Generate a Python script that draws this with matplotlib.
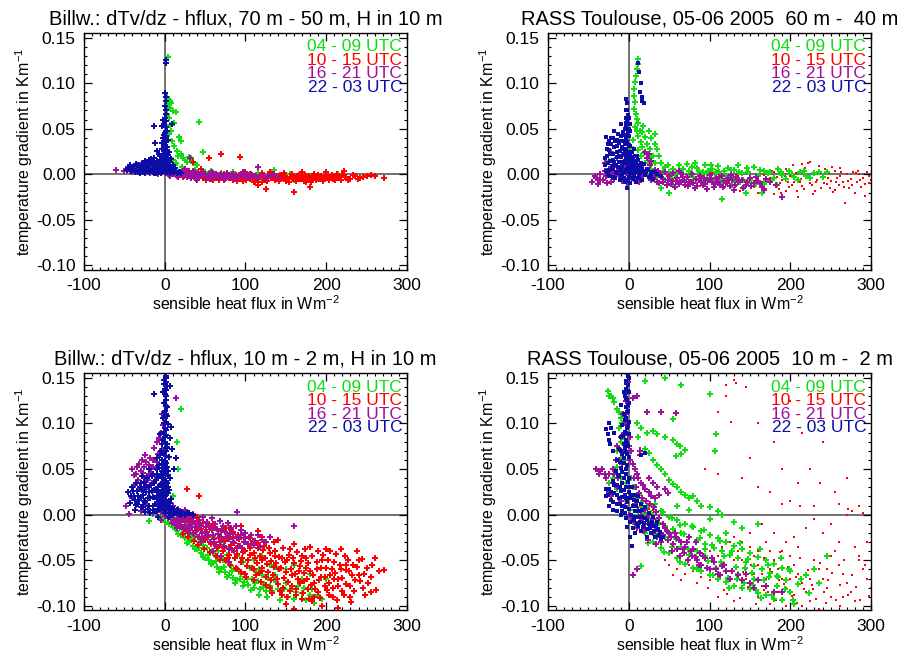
import numpy as np
import matplotlib
matplotlib.use("Agg")
import matplotlib.pyplot as plt
from matplotlib.ticker import MultipleLocator, FormatStrFormatter

plt.rcParams['font.family'] = ['Liberation Sans', 'DejaVu Sans']
plt.rcParams['mathtext.default'] = 'regular'
plt.rcParams['axes.unicode_minus'] = False

# ---- data: (sensible heat flux, temperature gradient) ----
periods = ["04 - 09 UTC", "10 - 15 UTC", "16 - 21 UTC", "22 - 03 UTC"]
period_colors = ["#11dd11", "#ff0000", "#a0109f", "#0c0ca6"]

titles = ["Billw.: dTv/dz - hflux, 70 m - 50 m, H in 10 m",
          "RASS Toulouse, 05-06 2005  60 m -  40 m",
          "Billw.: dTv/dz - hflux, 10 m - 2 m, H in 10 m",
          "RASS Toulouse, 05-06 2005  10 m -  2 m"]

# Billwerder 70 m - 50 m
tl_green = [(4,0.129),(3,0.085),(5,0.082),(7,0.080),(4,0.077),(8,0.078),(6,0.073),(10,0.069),(14,0.068),(3,0.066),
            (5,0.062),(11,0.056),(7,0.054),(42,0.057),(8,0.048),(18,0.041),(20,0.037),(5,0.044),(12,0.031),(15,0.026),
            (20,0.022),(17,0.020),(23,0.018),(30,0.019),(33,0.018),(25,0.016),(28,0.014),(35,0.012),(40,0.010),(47,0.024),
            (10,0.016),(14,0.012),(22,0.008),(38,0.005),(50,0.002),(55,-0.002),(60,0.000),(65,-0.003),(70,0.001),(75,-0.004),
            (80,-0.002),(85,0.002),(90,-0.006),(95,-0.001),(100,0.000),(105,-0.005),(110,-0.007),(115,0.001),(120,-0.003),
            (125,-0.006),(130,-0.002),(135,0.005),(140,-0.005),(150,-0.003),(160,-0.006),(170,-0.004),(180,-0.002),
            (190,-0.005),(200,-0.002),(215,0.000),(30,-0.001),(40,-0.004),(20,0.003),(9,0.037),(13,0.010),
            (57,0.004),(63,-0.004),(88,-0.003),(98,0.002),(117,-0.004),(133,-0.001),(145,-0.002),(155,0.000),
            (165,-0.003),(185,-0.004),(205,-0.004),(35,0.002),(26,0.004)]
tl_red = [(20,-0.001),(23,-0.003),(26,0.000),(29,-0.002),(32,-0.004),(35,-0.001),(38,-0.003),(41,0.001),(44,-0.002),
          (47,-0.004),(50,-0.001),(53,-0.003),(56,-0.005),(59,-0.002),(62,0.000),(65,-0.004),(68,-0.001),(71,-0.003),
          (74,-0.006),(77,-0.002),(80,-0.004),(83,0.000),(86,-0.003),(89,-0.005),(92,-0.001),(95,-0.004),(98,-0.002),
          (101,-0.006),(104,-0.003),(107,0.000),(110,-0.004),(113,-0.002),(116,-0.005),(119,-0.001),(122,-0.003),
          (125,-0.006),(128,-0.002),(131,-0.004),(134,0.000),(137,-0.003),(140,-0.005),(143,-0.001),(146,-0.004),
          (149,-0.002),(152,-0.006),(155,-0.003),(158,0.000),(161,-0.004),(164,-0.002),(167,-0.005),(170,-0.001),
          (173,-0.003),(176,-0.006),(179,-0.002),(182,-0.004),(185,0.000),(188,-0.003),(191,-0.005),(194,-0.002),
          (197,-0.004),(200,-0.001),(204,-0.003),(208,-0.005),(212,-0.002),(216,-0.004),(220,-0.001),(225,-0.003),
          (230,-0.005),(236,-0.002),(242,-0.004),(60,-0.006),(90,-0.007),(120,-0.008),(150,-0.007),(100,0.002),
          (130,0.002),(170,0.003),(35,0.013),(55,0.018),(70,0.022),(93,0.019),(115,-0.012),(110,-0.009),(125,-0.016),
          (160,-0.019),(180,-0.014),(175,-0.008),(200,0.003),(222,0.004),(250,-0.002),(260,-0.002),(272,-0.004),
          (255,-0.001),(30,0.004),(45,0.006)]
tl_red += [(24,-0.002),(33,0.001),(39,-0.005),(46,-0.001),(51,-0.006),(57,0.001),(63,-0.002),(67,-0.006),(73,0.000),
           (79,-0.003),(84,-0.006),(88,-0.001),(94,-0.003),(97,-0.007),(103,-0.001),(106,-0.005),(109,-0.002),
           (112,-0.007),(117,-0.003),(121,0.001),(124,-0.004),(127,-0.007),(132,-0.001),(136,-0.006),(139,-0.002),
           (142,-0.007),(145,-0.003),(148,0.001),(151,-0.004),(154,-0.008),(157,-0.002),(159,-0.005),(163,-0.007),
           (166,-0.001),(169,-0.004),(172,-0.007),(174,-0.001),(178,-0.005),(181,-0.008),(184,-0.002),(187,-0.006),
           (190,-0.001),(193,-0.003),(196,-0.007),(199,-0.004),(203,-0.006),(207,-0.001),(211,-0.006),(214,-0.003),
           (218,-0.006),(223,-0.003),(227,-0.006),(233,-0.001),(239,-0.005),(246,-0.003),(213,0.000)]
tl_purple = [(-60,0.005),(-50,0.004),(-45,0.008),(-40,0.003),(-35,0.006),(-30,0.002),(-28,0.012),(-25,0.008),
             (-22,0.004),(-20,0.013),(-18,0.001),(-15,0.007),(-12,0.003),(-10,0.010),(-8,0.000),(-5,0.004),(-3,0.008),
             (0,0.001),(3,0.003),(5,-0.001),(8,0.002),(10,0.000),(12,0.004),(15,-0.002),(18,0.001),(20,0.003),
             (22,-0.001),(25,0.001),(28,-0.003),(30,0.002),(32,0.000),(35,-0.002),(38,0.001),(40,-0.004),(42,0.000),
             (45,-0.002),(48,0.002),(50,-0.001),(52,-0.004),(55,0.000),(58,-0.002),(60,0.001),(62,-0.003),(65,-0.001),
             (68,-0.004),(70,0.000),(72,-0.002),(75,-0.005),(78,-0.001),(80,-0.003),(85,0.000),(88,-0.002),(90,-0.004),
             (95,-0.001),(100,-0.003),(105,0.000),(110,-0.002),(115,-0.004),(120,-0.001),(130,-0.002),(140,-0.003),
             (115,0.008),(31,0.018),(58,0.003),(45,0.001),(35,0.004),(25,0.006),(40,-0.006)]
tl_purple += [(-33,0.010),(-26,0.004),(-17,0.009),(-7,0.006),(2,0.006),(7,-0.002),(13,0.001),(17,-0.003),(23,0.002),
              (27,-0.001),(33,-0.004),(37,0.002),(43,-0.003),(47,0.000),(53,-0.002),(57,-0.005),(63,0.000),(67,-0.002),
              (73,-0.004),(77,0.001),(83,-0.003),(87,-0.005),(93,-0.002),(98,0.000),(103,-0.004),(108,-0.001),
              (113,-0.003),(125,-0.004),(135,0.000),(97,0.003)]
tl_blue = [(1,0.125),(2,0.122),(0,0.089),(1,0.085),(2,0.080),(0,0.075),(2,0.070),(1,0.066),(0,0.062),(2,0.058),
           (-1,0.055),(1,0.052),(3,0.048),(-3,0.053),(0,0.045),(2,0.042),(-2,0.040),(4,0.038),(1,0.035),(-1,0.032),
           (3,0.030),(-4,0.028),(0,0.027),(2,0.025),(5,0.024),(-2,0.022),(1,0.020),(-6,0.020),(3,0.018),(8,0.017),
           (-3,0.016),(0,0.015),(6,0.014),(-8,0.014),(2,0.012),(-5,0.012),(10,0.010),(-1,0.010),(4,0.009),
           (-45,0.007),(-40,0.006),(-38,0.009),(-35,0.004),(-32,0.008),(-30,0.005),(-28,0.011),(-27,0.002),(-25,0.007),
           (-23,0.004),(-22,0.012),(-20,0.009),(-19,0.002),(-18,0.006),(-16,0.014),(-15,0.003),(-14,0.010),(-12,0.007),
           (-11,0.001),(-10,0.013),(-9,0.005),(-8,0.009),(-7,0.003),(-6,0.016),(-5,0.006),(-4,0.011),(-3,0.002),
           (-2,0.008),(-1,0.004),(0,0.006),(1,0.002),(2,0.007),(3,0.003),(5,0.005),(6,0.001),(8,0.004),(10,0.002),
           (12,0.005),(15,0.001),(18,0.003),(-13,0.018),(-7,0.022),(-17,0.017),(-24,0.015),(-33,0.002),(-36,0.011),
           (-42,0.004),(20,0.001),(-9,0.026),(-4,0.034),(4,0.021),(-12,0.034),(-13,0.053),(9,0.055),(-2,0.060)]
tl_blue += [(-37,0.003),(-33,0.010),(-31,0.001),(-29,0.007),(-26,0.010),(-24,0.001),(-21,0.008),(-17,0.011),
            (-16,0.004),(-13,0.001),(-13,0.012),(-11,0.009),(-9,0.015),(-9,0.002),(-7,0.007),(-6,0.011),(-5,0.001),
            (-4,0.018),(-3,0.013),(-2,0.005),(-1,0.017),(0,0.009),(0,0.021),(1,0.013),(1,0.030),(2,0.004),(2,0.038),
            (3,0.010),(4,0.014),(-1,0.043),(1,0.047),(0,0.036),(-2,0.028),(7,0.009),(9,0.006),(11,0.003),(13,0.007),
            (-43,0.010),(-47,0.005),(-20,0.016)]

# RASS Toulouse 60 m - 40 m
tr_green = [(12,0.126),(11,0.121),(10,0.115),(9,0.108),(8,0.101),(7,0.094),(7,0.086),(8,0.079),(7,0.072),(9,0.066),
            (10,0.061),(11,0.056),(8,0.052),(10,0.047),(14,0.048),(16,0.046),(12,0.042),(20,0.041),(28,0.040),
            (22,0.033),(17,0.030),(15,0.035),(35,0.028),(30,0.020),(25,0.018),(19,0.023),(40,0.012),(45,0.008),
            (32,0.012),(28,0.006),(5,0.038),(3,0.030),(-25,0.015),(-15,0.008),(50,0.002),(55,0.006),(60,-0.004),
            (62,0.010),(65,0.002),(70,-0.008),(72,0.011),(75,0.004),(80,-0.003),(82,0.012),(85,0.007),(90,-0.006),
            (92,0.003),(95,0.010),(100,-0.001),(103,0.006),(105,-0.010),(108,0.002),(110,0.009),(113,-0.005),
            (115,-0.027),(118,0.004),(120,-0.008),(123,0.007),(125,-0.002),(128,-0.012),(130,0.005),(133,-0.004),
            (135,0.010),(138,-0.009),(140,0.001),(143,-0.014),(145,-0.020),(148,0.003),(150,-0.006),(155,0.008),
            (158,-0.011),(160,-0.002),(165,-0.020),(168,0.004),(170,-0.007),(175,0.002),(180,-0.004),(185,0.006),
            (190,-0.001),(198,0.004),(205,-0.003),(212,0.002),(220,-0.002),(230,0.001),(245,0.003),(240,-0.003),
            (50,-0.020),(40,-0.015),(55,-0.012),(58,0.003),(45,-0.006),(35,-0.003),(88,0.001),(77,0.001),(98,0.004)]
tr_green += [(26,0.028),(33,0.033),(38,0.020),(24,0.012),(43,0.004),(48,0.010),(53,-0.004),(57,0.000),(63,-0.008),
             (67,0.006),(73,-0.002),(78,0.008),(83,-0.006),(87,0.004),(93,-0.009),(97,0.000),(102,0.010),(107,-0.004),
             (112,0.003),(117,-0.010),(122,-0.002),(127,0.005),(132,-0.008),(137,0.002),(142,-0.006),(147,0.007),
             (152,-0.010),(157,-0.003),(162,0.005),(167,-0.011),(172,0.001),(178,-0.006),(183,-0.012),(188,0.003),
             (195,-0.005),(202,0.000),(210,-0.006),(217,0.004),(225,-0.004),(235,0.002),(15,0.020),(20,0.012),
             (12,0.027),(18,0.053),(25,0.048),(32,0.044)]
tr_red = [(40,0.002),(45,-0.004),(50,0.000),(55,-0.006),(60,0.003),(65,-0.002),(70,-0.008),(75,0.001),(80,-0.004),
          (85,-0.010),(90,0.002),(95,-0.006),(100,-0.001),(105,-0.012),(110,0.004),(115,-0.007),(118,-0.015),
          (120,-0.003),(125,0.006),(130,-0.009),(135,-0.002),(138,-0.018),(140,0.003),(145,-0.011),(150,-0.005),
          (153,0.008),(155,-0.014),(160,-0.001),(165,-0.008),(168,0.005),(170,-0.016),(175,-0.004),(180,0.002),
          (185,-0.012),(188,-0.020),(190,-0.006),(195,0.006),(198,-0.014),(200,-0.002),(203,0.010),(205,-0.009),
          (208,-0.018),(210,0.003),(213,-0.005),(215,-0.013),(218,0.007),(220,-0.001),(222,0.012),(225,-0.010),
          (228,-0.022),(230,0.004),(233,-0.006),(235,0.009),(238,-0.015),(240,-0.002),(243,0.006),(245,-0.011),
          (248,0.001),(250,-0.007),(253,-0.019),(255,0.004),(258,-0.004),(260,-0.012),(263,0.002),(265,-0.008),
          (268,-0.031),(270,0.000),(273,-0.015),(275,-0.005),(278,0.003),(280,-0.020),(283,-0.009),(285,0.000),
          (288,-0.014),(290,-0.004),(293,-0.024),(295,0.002),(298,-0.010),(300,-0.006),(210,-0.025),(180,-0.022),
          (160,-0.020),(255,-0.017),(225,0.013),(215,0.011),(195,-0.018),(245,0.003)]
tr_red += [(47,-0.001),(58,-0.009),(63,0.001),(68,-0.005),(73,-0.011),(78,0.003),(83,-0.007),(88,-0.013),(93,-0.003),
           (98,-0.009),(103,0.001),(108,-0.006),(113,0.002),(121,-0.012),(127,-0.005),(133,-0.013),(137,0.001),
           (143,-0.006),(147,0.005),(152,-0.010),(157,-0.003),(163,-0.012),(167,-0.001),(173,-0.008),(177,0.004),
           (183,-0.003),(187,-0.010),(193,-0.002),(197,-0.008),(202,-0.012),(207,0.001),(212,-0.008),(217,-0.016),
           (223,-0.004),(227,-0.012),(232,-0.008),(237,0.002),(242,-0.010),(247,-0.004),(252,0.008),(257,-0.009),
           (262,-0.002),(267,-0.014),(272,-0.007),(277,-0.012),(282,0.001),(287,-0.006),(292,-0.011),(297,-0.002),
           (249,-0.015),(231,-0.018),(186,-0.016),(262,0.007),(284,0.004)]
tr_purple = [(-45,-0.008),(-40,-0.004),(-38,-0.011),(-35,0.000),(-32,-0.006),(-30,0.004),(-28,-0.002),(-25,0.006),
             (-22,-0.009),(-20,0.002),(-18,-0.005),(-15,0.008),(-12,-0.001),(-10,0.004),(-8,-0.007),(-5,0.010),
             (-3,0.001),(0,-0.004),(3,0.006),(5,-0.002),(8,0.003),(10,-0.006),(12,0.001),(15,-0.003),(18,0.010),
             (20,0.025),(22,0.018),(25,0.022),(28,0.015),(30,-0.005),(32,0.005),(35,-0.008),(38,0.000),(40,-0.003),
             (42,-0.009),(45,0.002),(48,-0.006),(50,-0.002),(52,-0.011),(55,0.001),(58,-0.007),(60,-0.004),(63,-0.009),
             (65,0.001),(68,-0.006),(70,-0.012),(72,-0.003),(75,-0.008),(78,0.000),(80,-0.010),(83,-0.005),(85,-0.013),
             (88,-0.002),(90,-0.008),(93,-0.004),(95,-0.011),(98,-0.006),(100,-0.001),(103,-0.009),(105,-0.014),
             (108,-0.004),(110,-0.008),(113,-0.012),(115,-0.002),(118,-0.007),(120,-0.010),(123,-0.004),(125,-0.013),
             (128,-0.006),(130,-0.017),(133,-0.003),(135,-0.009),(140,-0.006),(145,-0.012),(150,-0.004),(155,-0.010),
             (160,-0.007),(165,-0.014),(170,-0.005),(190,-0.025),(-22,0.025),(-15,0.018),(-8,0.020),(2,0.015),
             (-30,0.012),(-2,-0.010),(10,0.010),(26,0.010),(36,0.004),(62,0.004)]
tr_purple += [(-42,-0.002),(-36,-0.006),(-27,-0.010),(-24,0.000),(-17,-0.002),(-13,0.004),(-6,0.003),(-1,0.006),
              (4,0.001),(7,-0.005),(13,-0.008),(17,-0.001),(23,0.005),(27,-0.006),(33,-0.002),(37,-0.010),(43,-0.005),
              (47,-0.012),(53,-0.007),(57,-0.014),(62,-0.011),(67,-0.003),(73,-0.013),(77,-0.009),(82,-0.015),
              (87,-0.006),(92,-0.012),(97,-0.016),(102,-0.005),(107,-0.011),(112,-0.003),(117,-0.014),(122,-0.008),
              (127,-0.001),(132,-0.012),(137,-0.006),(142,-0.015),(147,-0.008),(152,-0.013),(158,-0.003),(163,-0.010),
              (168,-0.017),(175,-0.009),(182,-0.012)]
tr_blue = [(-3,0.083),(-2,0.078),(-4,0.070),(-1,0.065),(0,0.062),(-2,0.057),(1,0.055),(-3,0.052),(0,0.050),(-1,0.046),
           (2,0.048),(12,0.122),(13,0.112),(15,0.100),(14,0.090),(17,0.080),(19,0.078),(16,0.085),
           (-28,0.041),(-25,0.036),(-22,0.033),(-27,0.028),(-20,0.040),(-18,0.030),(-15,0.038),(-12,0.034),(-10,0.042),
           (-8,0.030),(-6,0.036),(-4,0.040),(-14,0.025),(-23,0.022),(-30,0.018),(-26,0.012),(-20,0.016),(-16,0.010),
           (-12,0.020),(-10,0.014),(-8,0.008),(-6,0.022),(-5,0.015),(-3,0.028),(-2,0.020),(-1,0.010),(0,0.032),
           (0,0.018),(1,0.005),(2,0.024),(3,0.012),(4,0.002),(5,0.017),(6,0.008),(7,-0.002),(8,0.013),(9,0.004),
           (10,0.020),(11,-0.004),(12,0.008),(14,0.001),(15,0.012),(16,-0.006),(18,0.004),(20,-0.001),(22,0.006),
           (25,-0.003),(28,0.002),(30,-0.005),(35,0.000),(40,-0.002),(-28,0.004),(-24,-0.002),(-20,0.006),
           (-17,-0.004),(-14,0.003),(-11,-0.006),(-8,0.000),(-5,-0.008),(-3,0.005),(0,-0.003),(2,-0.010),(5,-0.005),
           (-2,-0.015),(-18,0.048),(-9,0.055),(-5,0.050)]
tr_blue += [(-29,0.010),(-27,0.020),(-26,0.033),(-25,0.005),(-24,0.027),(-23,0.015),(-22,0.040),(-21,0.009),
            (-19,0.022),(-18,0.013),(-17,0.036),(-16,0.003),(-15,0.019),(-14,0.031),(-13,0.008),(-13,0.044),
            (-12,0.014),(-11,0.026),(-10,0.005),(-9,0.019),(-9,0.037),(-8,0.012),(-7,0.028),(-7,0.046),(-6,0.003),
            (-5,0.024),(-5,0.033),(-4,0.012),(-4,0.056),(-3,0.018),(-2,0.006),(-2,0.035),(-1,0.025),(-1,0.003),
            (0,0.013),(0,0.042),(1,0.020),(1,0.001),(2,0.010),(2,0.031),(3,0.006),(3,0.019),(4,0.025),(4,0.009),
            (5,0.001),(6,0.015),(6,0.028),(7,0.006),(8,0.020),(9,0.011),(10,0.002),(11,0.008),(12,0.016),(13,0.004),
            (14,0.010),(17,0.006),(19,0.011),(21,0.002),(24,0.005),(27,-0.001),(32,0.003),(-1,-0.007),(-6,-0.004),
            (-10,-0.002),(-15,0.001),(-20,-0.003),(-26,0.000),(4,-0.004),(9,-0.008),(13,-0.003),(-3,0.062),
            (-2,0.070),(-5,0.043)]

# Billwerder 10 m - 2 m
bl_green = [(-20,-0.007),(-15,0.001),(-5,-0.004),(0,-0.008),(5,-0.010),(8,-0.005),(10,-0.014),(12,-0.008),(15,-0.018),
            (18,-0.012),(20,-0.022),(22,-0.015),(25,-0.026),(28,-0.018),(30,-0.030),(32,-0.022),(35,-0.034),(38,-0.025),
            (40,-0.038),(42,-0.030),(45,-0.042),(48,-0.033),(50,-0.047),(52,-0.036),(55,-0.050),(58,-0.040),(60,-0.053),
            (62,-0.044),(65,-0.057),(68,-0.047),(70,-0.060),(72,-0.050),(75,-0.063),(78,-0.053),(80,-0.066),(82,-0.056),
            (85,-0.069),(88,-0.059),(90,-0.072),(92,-0.062),(95,-0.065),(98,-0.074),(100,-0.068),(103,-0.077),
            (105,-0.058),(108,-0.070),(110,-0.080),(113,-0.063),(115,-0.073),(118,-0.082),(120,-0.066),(123,-0.076),
            (125,-0.084),(128,-0.069),(130,-0.078),(135,-0.072),(140,-0.081),(145,-0.088),(150,-0.075),(155,-0.083),
            (160,-0.092),(165,-0.078),(170,-0.086),(175,-0.094),(180,-0.088),(185,-0.097),(195,-0.092),(140,-0.060),
            (120,-0.045),(100,-0.040),(80,-0.035),(60,-0.025),(40,-0.015),(160,-0.055),(180,-0.065),(200,-0.070),
            (20,0.116),(16,0.050),(15,0.080),(10,0.020),(2,0.012),(30,-0.010),(50,-0.020),(70,-0.030),(90,-0.045),
            (110,-0.050),(130,-0.055),(150,-0.060),(170,-0.070)]
bl_green += [(13,-0.015),(17,-0.021),(24,-0.019),(27,-0.031),(33,-0.027),(37,-0.038),(43,-0.036),(47,-0.046),
             (53,-0.044),(57,-0.054),(63,-0.051),(67,-0.063),(73,-0.057),(77,-0.068),(83,-0.062),(87,-0.075),
             (93,-0.070),(97,-0.078),(102,-0.071),(107,-0.083),(112,-0.075),(117,-0.088),(122,-0.079),(127,-0.090),
             (133,-0.084),(138,-0.074),(143,-0.093),(148,-0.082),(153,-0.090),(163,-0.085),(173,-0.080),(183,-0.082),
             (190,-0.088),(57,-0.030),(77,-0.044),(97,-0.052),(117,-0.060),(137,-0.066),(37,-0.022),(66,-0.040)]
bl_red = [(15,-0.005),(18,-0.010),(20,-0.003),(22,-0.014),(25,-0.008),(27,-0.018),(30,-0.011),(32,-0.004),(35,-0.020),
          (37,-0.013),(40,-0.007),(42,-0.024),(45,-0.016),(47,-0.009),(50,-0.028),(52,-0.019),(55,-0.012),(57,-0.032),
          (60,-0.022),(62,-0.015),(65,-0.036),(67,-0.026),(70,-0.018),(72,-0.040),(75,-0.029),(77,-0.021),(80,-0.044),
          (82,-0.033),(85,-0.024),(87,-0.048),(90,-0.037),(92,-0.027),(95,-0.052),(97,-0.041),(100,-0.030),
          (102,-0.056),(105,-0.044),(107,-0.033),(110,-0.060),(112,-0.047),(115,-0.036),(117,-0.064),(120,-0.050),
          (122,-0.039),(125,-0.068),(127,-0.054),(130,-0.042),(132,-0.072),(135,-0.057),(137,-0.045),(140,-0.076),
          (142,-0.060),(145,-0.048),(147,-0.080),(150,-0.063),(152,-0.050),(155,-0.084),(157,-0.066),(160,-0.053),
          (162,-0.088),(165,-0.070),(167,-0.056),(170,-0.092),(172,-0.073),(175,-0.058),(177,-0.082),(180,-0.062),
          (182,-0.095),(185,-0.075),(188,-0.060),(190,-0.085),(193,-0.068),(195,-0.100),(198,-0.078),(200,-0.058),
          (203,-0.088),(205,-0.066),(208,-0.080),(210,-0.052),(213,-0.094),(215,-0.070),(218,-0.060),(220,-0.084),
          (223,-0.045),(225,-0.076),(228,-0.062),(230,-0.090),(233,-0.055),(236,-0.072),(240,-0.066),(245,-0.080),
          (250,-0.058),(255,-0.068),(260,-0.048),(265,-0.062),(272,-0.061),(248,-0.088),(215,-0.102),(150,-0.098),
          (160,-0.103),(205,-0.040),(180,-0.035),(190,-0.040),(170,-0.045),(160,-0.032),(140,-0.028),(120,-0.025),
          (100,-0.020),(80,-0.015),(60,-0.010),(28,0.028),(42,0.020),(40,-0.002),(90,-0.060),(110,-0.072),
          (130,-0.080),(145,-0.088),(100,-0.065),(120,-0.058),(75,-0.050),(65,-0.045),(95,-0.012),(115,-0.018),
          (135,-0.030),(155,-0.038),(175,-0.048),(195,-0.050),(210,-0.070),(225,-0.055),(240,-0.050),(200,-0.038),
          (185,-0.090)]
bl_red += [(23,-0.021),(26,-0.006),(29,-0.025),(31,-0.016),(34,-0.009),(36,-0.029),(39,-0.018),(41,-0.033),(44,-0.011),
           (46,-0.026),(49,-0.038),(51,-0.014),(54,-0.024),(56,-0.041),(58,-0.017),(61,-0.030),(63,-0.045),(66,-0.021),
           (68,-0.033),(69,-0.050),(71,-0.027),(74,-0.037),(76,-0.015),(78,-0.047),(79,-0.025),(81,-0.055),(83,-0.039),
           (84,-0.019),(86,-0.031),(88,-0.058),(89,-0.043),(91,-0.022),(93,-0.034),(94,-0.063),(96,-0.047),(98,-0.026),
           (99,-0.040),(101,-0.068),(103,-0.050),(104,-0.024),(106,-0.037),(108,-0.058),(109,-0.029),(111,-0.042),
           (113,-0.066),(114,-0.053),(116,-0.031),(118,-0.045),(119,-0.074),(121,-0.062),(123,-0.034),(124,-0.048),
           (126,-0.077),(128,-0.063),(129,-0.037),(131,-0.051),(133,-0.086),(134,-0.066),(136,-0.040),(138,-0.053),
           (139,-0.071),(141,-0.046),(143,-0.084),(144,-0.058),(146,-0.036),(148,-0.069),(149,-0.052),(151,-0.090),
           (153,-0.074),(154,-0.044),(156,-0.059),(158,-0.078),(159,-0.048),(161,-0.065),(163,-0.081),(164,-0.041),
           (166,-0.062),(168,-0.075),(169,-0.051),(171,-0.086),(173,-0.064),(174,-0.038),(176,-0.070),(178,-0.053),
           (179,-0.092),(181,-0.077),(183,-0.045),(184,-0.066),(186,-0.082),(189,-0.052),(191,-0.072),(192,-0.091),
           (194,-0.058),(196,-0.044),(199,-0.068),(201,-0.083),(202,-0.050),(204,-0.075),(207,-0.059),(209,-0.090),
           (211,-0.064),(212,-0.043),(214,-0.078),(217,-0.055),(219,-0.069),(222,-0.088),(224,-0.061),(227,-0.050),
           (229,-0.078),(232,-0.066),(235,-0.084),(238,-0.057),(242,-0.073),(244,-0.049),(247,-0.065),(252,-0.075),
           (257,-0.055),(262,-0.083),(231,-0.096),(238,-0.040),(255,-0.085),(218,-0.038)]
bl_purple = [(-40,0.050),(-38,0.043),(-35,0.045),(-33,0.038),(-32,0.055),(-30,0.048),(-28,0.060),(-26,0.052),
             (-25,0.040),(-23,0.058),(-22,0.030),(-20,0.045),(-18,0.062),(-16,0.035),(-15,0.052),(-13,0.073),
             (-12,0.042),(-10,0.080),(-9,0.058),(-8,0.025),(-6,0.068),(-5,0.090),(-4,0.035),(-2,0.098),(-3,0.072),
             (14,0.128),(-41,0.018),(-30,0.004),(-25,0.012),(-15,0.002),(-10,0.012),(-5,0.003),(0,-0.001),(3,0.004),
             (6,-0.003),(8,0.002),(10,-0.006),(12,0.000),(15,-0.004),(18,-0.008),(20,0.002),(22,-0.005),(25,-0.011),
             (28,-0.002),(30,-0.008),(33,-0.014),(35,-0.004),(38,-0.010),(40,-0.017),(42,-0.006),(45,-0.012),
             (48,-0.002),(50,-0.019),(52,-0.008),(55,-0.014),(58,-0.004),(60,-0.022),(62,-0.010),(65,-0.016),
             (68,-0.007),(70,-0.024),(72,-0.012),(75,-0.019),(78,-0.009),(80,-0.027),(82,-0.015),(85,-0.021),
             (88,-0.012),(90,0.003),(92,-0.025),(95,-0.017),(98,-0.030),(100,-0.020),(105,-0.026),(110,-0.033),
             (115,-0.022),(120,-0.028),(130,-0.024),(160,-0.012),(70,-0.045),(80,-0.052),(60,-0.040),(45,-0.030),
             (5,0.015),(10,0.010),(16,0.006),(25,0.005),(35,0.001),(-48,0.009),(-44,0.001),(-5,-0.006),(30,-0.020),
             (15,-0.015)]
bl_purple += [(-37,0.033),(-34,0.052),(-29,0.028),(-27,0.046),(-24,0.065),(-21,0.038),(-19,0.054),(-17,0.047),
              (-14,0.060),(-11,0.051),(-8,0.066),(-7,0.084),(-4,0.078),(-3,0.110),(-1,0.090),(2,0.003),(4,-0.004),
              (7,0.003),(9,-0.009),(11,0.004),(13,-0.007),(14,-0.011),(17,0.001),(19,-0.013),(21,-0.006),(24,-0.016),
              (26,-0.003),(27,-0.013),(31,-0.017),(34,-0.007),(36,-0.021),(39,-0.013),(41,-0.024),(44,-0.009),
              (46,-0.020),(49,-0.026),(51,-0.013),(54,-0.022),(56,-0.030),(59,-0.016),(61,-0.027),(64,-0.034),
              (66,-0.021),(69,-0.030),(71,-0.017),(74,-0.034),(76,-0.025),(79,-0.038),(81,-0.020),(84,-0.030),
              (86,-0.040),(89,-0.026),(91,-0.034),(94,-0.022),(96,-0.036),(99,-0.026),(103,-0.032),(107,-0.022),
              (112,-0.029),(118,-0.035),(125,-0.030),(6,0.008),(-2,0.005)]
bl_blue = [(0,0.155),(2,0.152),(-1,0.148),(1,0.145),(3,0.141),(0,0.138),(-2,0.134),(2,0.130),(1,0.126),(-1,0.122),
           (3,0.118),(0,0.114),(2,0.110),(-2,0.106),(1,0.102),(4,0.099),(0,0.095),(-1,0.091),(2,0.087),(6,0.084),
           (0,0.080),(-3,0.077),(3,0.074),(1,0.070),(-1,0.066),(5,0.063),(-4,0.060),(2,0.057),(0,0.054),(-2,0.051),
           (4,0.048),(1,0.045),(-5,0.043),(7,0.040),(-1,0.038),(3,0.035),(-3,0.032),(0,0.029),(5,0.027),(-6,0.025),
           (2,0.022),(-2,0.019),(8,0.017),(-4,0.015),(1,0.012),(-8,0.010),(4,0.008),(-1,0.005),(10,0.004),(0,0.002),
           (-13,0.132),(7,0.141),(-6,0.088),(8,0.096),(-5,0.070),(9,0.072),
           (-45,0.025),(-43,0.013),(-40,0.030),(-38,0.020),(-36,0.011),(-34,0.026),(-32,0.016),(-30,0.035),(-29,0.008),
           (-27,0.022),(-25,0.030),(-24,0.014),(-22,0.040),(-21,0.006),(-20,0.025),(-18,0.018),(-17,0.033),(-15,0.010),
           (-14,0.045),(-13,0.027),(-12,0.004),(-11,0.038),(-10,0.020),(-9,0.050),(-8,0.030),(-7,0.012),(-6,0.042),
           (-5,0.022),(-4,0.055),(-3,0.008),(-2,0.040),(-1,0.028),(2,0.016),(4,0.030),(6,0.008),(8,0.003),(12,0.002),
           (15,0.005),(18,0.001),(22,0.003),(25,0.000),(30,0.002),(-28,0.042),(-35,0.035),(-19,0.050),(-10,0.062),
           (-6,0.065),(14,0.062),(12,0.050),(-18,0.002),(-8,-0.002),(5,-0.002),(-37,0.005),(-24,0.003)]
bl_blue += [(1,0.150),(-1,0.143),(2,0.137),(0,0.132),(1,0.119),(-1,0.111),(3,0.108),(-1,0.100),(2,0.093),(0,0.085),
            (-2,0.082),(3,0.078),(1,0.073),(-2,0.068),(2,0.064),(0,0.059),(-3,0.056),(3,0.052),(1,0.049),(-1,0.046),
            (4,0.043),(-3,0.040),(2,0.037),(0,0.034),(-4,0.031),(2,0.030),(-2,0.026),(4,0.024),(0,0.020),(-5,0.018),
            (3,0.014),(-2,0.011),(6,0.010),(-6,0.006),(2,0.005),
            (-42,0.020),(-39,0.026),(-37,0.016),(-33,0.021),(-31,0.030),(-29,0.018),(-28,0.027),(-26,0.015),
            (-26,0.036),(-23,0.025),(-23,0.033),(-21,0.018),(-19,0.030),(-19,0.010),(-16,0.026),(-16,0.042),
            (-14,0.019),(-13,0.035),(-12,0.012),(-11,0.027),(-10,0.045),(-9,0.017),(-8,0.040),(-7,0.025),(-7,0.054),
            (-6,0.015),(-5,0.034),(-4,0.020),(-3,0.048),(-3,0.024),(-1,0.015),(1,0.025),(3,0.009),(5,0.002),(7,0.013),
            (9,0.000),(11,0.006),(14,0.002),(17,0.004),(20,0.000),(27,0.002),(35,0.000),(-15,0.005),(-27,0.008),
            (-34,0.012),(-10,0.004)]

# RASS Toulouse 10 m - 2 m
br_green = [(-26,0.136),(-25,0.130),(-20,0.128),(-12,0.112),(-8,0.100),(-5,0.090),(-10,0.080),(-3,0.070),(-6,0.060),
            (-15,0.052),(-20,0.040),(-25,0.035),(-15,0.028),(20,0.147),(45,0.150),(65,0.142),(100,0.132),(108,0.088),
            (107,0.070),(10,0.100),(12,0.085),(15,0.095),(22,0.090),(30,0.092),(35,0.088),(45,0.085),(55,0.082),
            (60,0.078),(63,0.075),(70,0.071),(65,0.066),(58,0.064),(20,0.072),(25,0.068),(30,0.060),(35,0.054),
            (40,0.050),(45,0.045),(50,0.038),(55,0.034),(60,0.030),(65,0.025),(70,0.022),(75,0.018),(80,0.020),
            (85,0.015),(90,0.010),(100,0.008),(110,0.004),(115,0.000),(5,0.030),(10,0.018),(15,0.008),(20,0.002),
            (25,-0.004),(30,0.010),(35,-0.008),(40,0.004),(45,-0.012),(50,-0.002),(55,-0.016),(60,-0.006),(65,-0.020),
            (70,-0.010),(75,-0.024),(80,-0.014),(85,-0.028),(90,-0.018),(95,-0.032),(100,-0.022),(105,-0.036),
            (110,-0.026),(115,-0.040),(120,-0.030),(125,-0.044),(130,-0.034),(135,-0.048),(140,-0.038),(145,-0.052),
            (150,-0.042),(155,-0.056),(160,-0.046),(165,-0.060),(170,-0.050),(175,-0.064),(180,-0.054),(185,-0.068),
            (190,-0.058),(195,-0.072),(200,-0.062),(210,-0.076),(220,-0.066),(230,-0.060),(245,-0.045),(20,-0.020),
            (30,-0.030),(40,-0.036),(50,-0.042),(60,-0.048),(70,-0.054),(80,-0.058),(90,-0.062),(100,-0.066),
            (110,-0.070),(120,-0.074),(130,-0.078),(140,-0.080),(150,-0.082),(160,-0.086),(170,-0.088),(180,-0.092),
            (190,-0.094),(205,-0.098),(15,-0.056),(120,-0.020),(140,-0.015),(160,-0.010),(130,-0.008),(100,-0.005),
            (60,0.010),(75,0.005),(95,-0.045),(115,-0.055),(135,-0.065),(155,-0.070),(85,-0.040),(65,-0.035),
            (45,-0.025),(12,0.000),(8,-0.010),(2,0.005),(-3,0.015),(55,0.105)]
br_green += [(-22,0.130),(-18,0.124),(-14,0.116),(-9,0.106),(-12,0.095),(-7,0.085),(-14,0.070),(-9,0.062),(-18,0.045),
             (-10,0.040),(-4,0.035),(3,0.040),(8,0.030),(13,0.022),(18,0.015),(23,0.008),(28,0.002),(33,0.012),
             (38,-0.009),(43,0.003),(48,-0.019),(53,-0.004),(58,-0.027),(63,-0.011),(68,-0.021),(73,-0.038),
             (78,-0.012),(83,-0.046),(88,-0.026),(93,-0.017),(98,-0.051),(103,-0.033),(108,-0.058),(113,-0.029),
             (118,-0.045),(123,-0.069),(128,-0.040),(133,-0.057),(138,-0.031),(143,-0.075),(148,-0.049),(153,-0.064),
             (158,-0.083),(163,-0.038),(168,-0.072),(173,-0.055),(178,-0.088),(183,-0.067),(188,-0.048),(193,-0.081),
             (198,-0.060),(203,-0.094),(213,-0.071),(223,-0.086),(236,-0.075),(24,-0.031),(34,-0.022),(44,-0.041),
             (54,-0.035),(64,-0.052),(74,-0.044),(84,-0.060),(94,-0.038),(104,-0.066),(114,-0.052),(124,-0.080),
             (134,-0.070),(144,-0.058),(154,-0.077),(164,-0.091),(174,-0.068),(184,-0.078),(200,-0.085)]
br_red = [(14,0.073),(12,0.065),(120,0.130),(133,0.144),(145,0.140),(110,0.112),(127,0.102),(95,0.050),(110,0.045),
          (140,0.040),(160,0.030),(175,0.025),(190,0.012),(200,0.015),(212,0.010),(215,0.090),(240,0.080),(237,0.035),
          (260,0.012),(272,0.006),(277,0.004),(290,0.002),(225,0.050),(150,0.062),(180,0.080),(165,-0.010),
          (30,-0.010),(40,0.002),(25,0.006),(50,-0.055),(60,-0.060),(80,-0.062),(90,-0.068),(100,-0.058),(110,-0.045),
          (120,-0.020),(125,-0.030),(130,-0.025),(135,-0.040),(140,-0.050),(145,-0.060),(150,-0.035),(155,-0.045),
          (160,-0.055),(165,-0.065),(170,-0.030),(175,-0.040),(180,-0.050),(185,-0.060),(190,-0.070),(195,-0.080),
          (200,-0.045),(205,-0.055),(210,-0.065),(215,-0.075),(220,-0.085),(225,-0.095),(230,-0.050),(235,-0.060),
          (240,-0.070),(245,-0.080),(250,-0.090),(255,-0.040),(260,-0.055),(265,-0.065),(270,-0.075),(275,-0.085),
          (280,-0.095),(285,-0.045),(290,-0.060),(295,-0.070),(300,-0.080),(205,-0.025),(220,-0.015),(240,-0.020),
          (260,-0.030),(280,-0.035),(230,-0.005),(250,-0.010),(270,0.000),(285,-0.050),(215,-0.100),(235,-0.103),
          (195,-0.100),(175,-0.098),(160,-0.090),(140,-0.080),(120,-0.075),(100,-0.072),(110,-0.090),(130,-0.095),
          (145,-0.070),(165,-0.078),(185,-0.085),(205,-0.088),(225,-0.070),(245,-0.060),(265,-0.090),(120,-0.060),
          (130,-0.050),(100,-0.040),(115,-0.035),(140,-0.030),(150,-0.020),(160,-0.040),(180,-0.020),(195,-0.030),
          (170,-0.070),(190,-0.040),(210,-0.035),(250,-0.045),(45,-0.050),(70,-0.065),(155,-0.065),(175,-0.060),
          (200,-0.070),(30,0.005),(20,-0.005),(35,-0.015),(25,0.010)]
br_red += [(105,-0.052),(112,-0.067),(118,-0.083),(123,-0.044),(128,-0.071),(133,-0.058),(138,-0.091),(143,-0.038),
           (148,-0.079),(152,-0.055),(157,-0.098),(162,-0.072),(167,-0.047),(172,-0.085),(177,-0.063),(182,-0.094),
           (187,-0.041),(192,-0.076),(197,-0.057),(202,-0.089),(207,-0.068),(212,-0.048),(217,-0.082),(222,-0.061),
           (227,-0.077),(232,-0.092),(237,-0.053),(242,-0.085),(247,-0.072),(252,-0.064),(257,-0.094),(262,-0.077),
           (267,-0.050),(272,-0.088),(277,-0.066),(282,-0.079),(287,-0.093),(292,-0.055),(297,-0.089),(262,-0.100),
           (244,-0.097),(228,-0.081),(208,-0.097),(186,-0.072),(168,-0.083),(142,-0.063),(122,-0.087),(98,-0.080),
           (85,-0.075),(65,-0.072),(55,-0.066),(75,-0.055),(210,0.035),(255,0.025),(270,0.040),(190,0.050),
           (200,0.125),(160,0.100),(230,0.010),(285,0.010),(295,-0.030),(130,0.148),(120,0.142)]
br_purple = [(-40,0.050),(-35,0.048),(-30,0.045),(-28,0.040),(-27,0.022),(-25,0.025),(-22,0.020),(-20,0.050),
             (-18,0.045),(-15,0.075),(-12,0.060),(-10,0.085),(-8,0.055),(-5,0.100),(-4,0.110),(-3,0.125),(-2,0.135),
             (-6,0.090),(0,0.075),(-1,0.145),(5,0.128),(10,0.130),(22,0.113),(40,0.112),(59,0.111),(2,0.060),
             (5,0.055),(8,0.050),(10,0.045),(12,0.040),(15,0.035),(18,0.032),(20,0.028),(25,0.025),(28,0.020),
             (32,0.018),(38,0.022),(45,0.028),(48,0.024),(5,0.020),(8,0.012),(12,0.005),(15,0.000),(18,-0.005),
             (20,-0.010),(22,-0.002),(25,-0.015),(28,-0.008),(30,-0.020),(32,-0.012),(35,-0.025),(38,-0.018),
             (40,-0.030),(42,-0.022),(45,-0.015),(48,-0.028),(50,-0.020),(55,-0.032),(58,-0.025),(60,-0.038),
             (65,-0.030),(68,-0.042),(70,-0.035),(75,-0.025),(78,-0.045),(80,-0.038),(85,-0.050),(88,-0.042),
             (90,-0.055),(95,-0.048),(100,-0.060),(105,-0.052),(110,-0.065),(115,-0.056),(120,-0.062),(125,-0.070),
             (135,-0.066),(150,-0.075),(160,-0.072),(180,-0.085),(10,-0.060),(5,-0.066),(-5,0.010),(-10,0.015),
             (0,0.000),(-15,0.030),(-20,0.035),(3,-0.002),(7,-0.008),(10,-0.015),(14,0.070),(25,0.040),(30,0.035),
             (35,0.030)]
br_purple += [(-37,0.045),(-33,0.050),(-24,0.045),(-16,0.060),(-13,0.040),(-9,0.070),(-7,0.110),(-2,0.118),(-4,0.090),
              (1,0.085),(3,0.070),(6,0.040),(9,0.030),(13,0.024),(16,0.018),(21,0.015),(26,0.012),(31,0.008),(34,0.003),
              (37,-0.004),(43,-0.010),(47,-0.018),(52,-0.025),(53,-0.040),(57,-0.020),(62,-0.028),(63,-0.045),
              (67,-0.038),(72,-0.030),(73,-0.050),(77,-0.040),(82,-0.046),(83,-0.030),(87,-0.055),(92,-0.045),
              (97,-0.058),(103,-0.048),(108,-0.060),(113,-0.066),(118,-0.055),(128,-0.062),(140,-0.072),(145,-0.065),
              (155,-0.080),(170,-0.078),(190,-0.085),(20,0.005),(25,0.000),(30,-0.005),(14,-0.008),(19,-0.018),
              (24,-0.028),(34,-0.032)]
br_blue = [(-2,0.155),(0,0.150),(-4,0.146),(-1,0.142),(-3,0.138),(0,0.134),(-5,0.130),(-2,0.126),(0,0.122),(-4,0.118),
           (-1,0.114),(-6,0.110),(-3,0.106),(0,0.102),(-8,0.098),(-2,0.095),(-5,0.091),(0,0.088),(-10,0.085),(-3,0.082),
           (-6,0.078),(-1,0.075),(-12,0.072),(-4,0.069),(-8,0.066),(0,0.063),(-14,0.060),(-6,0.057),(-2,0.054),
           (-10,0.051),(-16,0.048),(-4,0.045),(-12,0.042),(0,0.040),(-20,0.037),(-8,0.035),(-15,0.032),(-3,0.030),
           (-25,0.028),(-10,0.026),(-18,0.024),(-5,0.022),(-28,0.020),(-12,0.018),(-22,0.016),(-2,0.014),(-15,0.012),
           (-8,0.010),(-25,0.009),(-28,0.094),(-26,0.088),(-24,0.082),(-23,0.078),(-20,0.070),(-9,0.120),(-6,0.134),
           (-18,0.090),(0,0.025),(2,0.018),(4,0.030),(5,0.010),(7,0.022),(8,0.004),(10,0.015),(12,-0.002),(3,0.000),
           (0,0.006),(-3,-0.004),(6,-0.006),(10,-0.010),(14,-0.008),(16,0.005),(18,-0.014),(20,-0.004),(22,-0.016),
           (25,-0.010),(28,-0.020),(30,-0.012),(33,-0.024),(36,-0.016),(40,-0.027),(15,0.012),(20,0.008),(25,0.002),
           (30,-0.003),(35,-0.008),(8,-0.020),(5,-0.015),(-5,0.002),(2,-0.025),(4,-0.034),(20,0.068),(15,0.065),
           (-10,0.000),(-8,0.004)]
br_blue += [(-1,0.152),(-3,0.144),(-1,0.136),(-4,0.128),(-1,0.120),(-2,0.112),(-5,0.104),(-1,0.097),(-4,0.090),
            (-7,0.086),(-2,0.079),(-5,0.073),(-9,0.070),(-2,0.066),(-6,0.062),(-11,0.058),(-3,0.050),(-8,0.047),
            (-13,0.044),(-6,0.040),(-1,0.036),(-18,0.033),(-11,0.030),(-6,0.027),(-22,0.025),(-14,0.022),(-8,0.019),
            (-3,0.018),(-19,0.014),(-11,0.012),(-5,0.008),(-20,0.005),(-14,0.004),(-28,0.028),(-26,0.022),(1,0.030),
            (3,0.022),(6,0.016),(9,0.009),(11,0.020),(13,0.004),(17,-0.002),(19,-0.009),(23,-0.006),(26,-0.015),
            (29,-0.008),(31,-0.018),(34,-0.012),(37,-0.022),(39,-0.019),(42,-0.024),(12,-0.012),(7,-0.003),(1,-0.008),
            (-2,-0.014),(15,-0.018),(22,-0.024),(-22,0.095),(-25,0.100)]

panels = [
    (titles[0], [tl_green, tl_red, tl_purple, tl_blue], False),
    (titles[1], [tr_green, tr_red, tr_purple, tr_blue], True),
    (titles[2], [bl_green, bl_red, bl_purple, bl_blue], False),
    (titles[3], [br_green, br_red, br_purple, br_blue], True),
]

# axes rectangles in figure fraction (left, bottom, width, height)
rects = [(0.0926, 0.5884, 0.3561, 0.3613), (0.6042, 0.5884, 0.3561, 0.3613),
         (0.0926, 0.0694, 0.3561, 0.3616), (0.6042, 0.0694, 0.3561, 0.3616)]

fig = plt.figure(figsize=(9.07, 6.56), dpi=100)

for (title, series, rass), rect in zip(panels, rects):
    ax = fig.add_axes(rect)
    ax.axhline(0, color='#666666', lw=1.3, zorder=1)
    ax.axvline(0, color='#666666', lw=1.3, zorder=1)
    # red drawn first for RASS (small dots), otherwise in period order
    order = [1, 0, 2, 3] if rass else [0, 1, 2, 3]
    for k in order:
        pts = np.array(series[k])
        if rass and k == 1:
            ax.plot(pts[:, 0], pts[:, 1], ls='none', marker='s', ms=1.9, mew=0,
                    color=period_colors[k], zorder=2)
        elif rass and k == 3:
            ax.plot(pts[:, 0], pts[:, 1], ls='none', marker='s', ms=2.6, mew=0,
                    color=period_colors[k], zorder=2)
        else:
            ax.plot(pts[:, 0], pts[:, 1], ls='none', marker='P', ms=4.0, mew=0,
                    color=period_colors[k], zorder=2)
    ax.set_xlim(-100, 300)
    ax.set_ylim(-0.105, 0.155)
    ax.xaxis.set_major_locator(MultipleLocator(100))
    ax.xaxis.set_minor_locator(MultipleLocator(10))
    ax.yaxis.set_major_locator(MultipleLocator(0.05))
    ax.yaxis.set_minor_locator(MultipleLocator(0.01))
    ax.yaxis.set_major_formatter(FormatStrFormatter('%.2f'))
    ax.tick_params(which='both', direction='in', top=True, right=True, labelsize=12.5, color='black')
    ax.tick_params(which='major', length=5.5, width=0.9, pad=6)
    ax.tick_params(which='minor', length=2.5, width=0.8)
    for sp in ax.spines.values():
        sp.set_linewidth(1.0)
    ax.set_xlabel('sensible heat flux in Wm$^{-2}$', fontsize=11.5, labelpad=1)
    ax.set_ylabel('temperature gradient in Km$^{-1}$', fontsize=11.5, labelpad=1)
    ax.set_title(title, fontsize=14.5, pad=6)
    for i, (lab, col) in enumerate(zip(periods, period_colors)):
        ax.text(0.985, 0.941 - i * 0.0565, lab, transform=ax.transAxes, ha='right', va='center',
                color=col, fontsize=12.5)

fig.savefig('out.png', dpi=100)
